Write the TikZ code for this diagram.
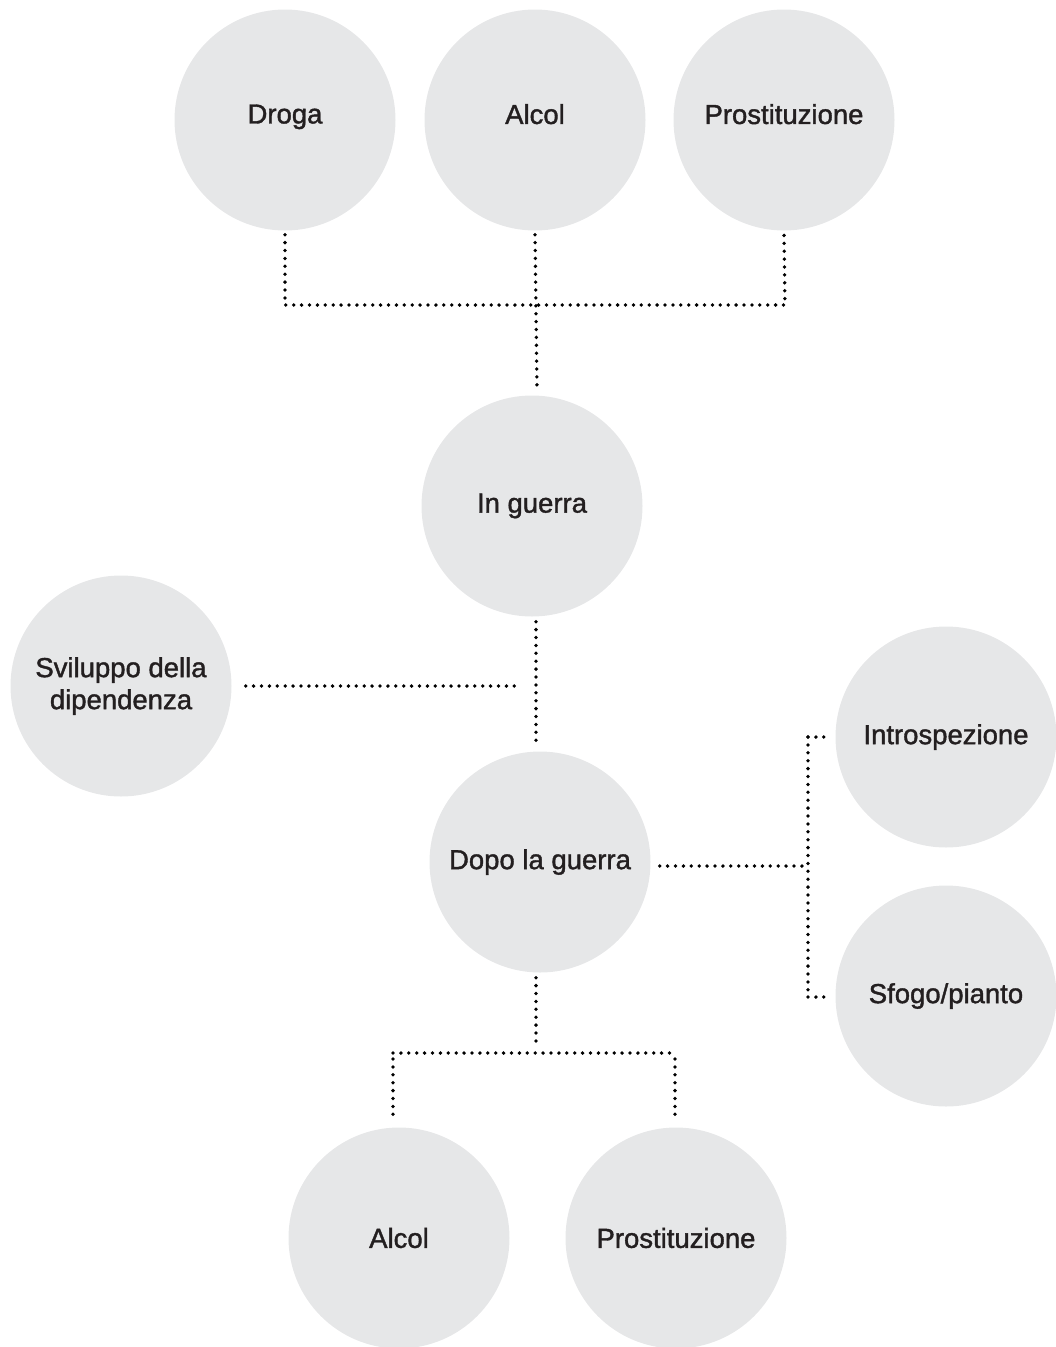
\documentclass[tikz,border=0pt]{standalone}
\usepackage{fontspec}
\usetikzlibrary{calc}
\newfontfamily\labfont{Liberation Sans}[FakeBold=1.4]
\definecolor{bubble}{HTML}{E6E7E8}
\definecolor{ink}{HTML}{231F20}
\begin{document}
\begin{tikzpicture}[x=1pt,y=-1pt,
  bub/.style={circle,fill=bubble,minimum size=221pt,inner sep=0pt,
    text=ink,align=center,font=\labfont\fontsize{27.5}{32}\selectfont},
  link/.style={draw=black,line width=3.8pt,line cap=round,
    dash pattern=on 0pt off 7.9pt}]
\useasboundingbox (0,0) rectangle (1056,1347);

% bubbles
\node[bub] (droga)  at (285,120) {\raisebox{12pt}{Droga}};
\node[bub] (alcolA) at (535,120) {\raisebox{12pt}{Alcol}};
\node[bub] (prostA) at (784,120) {\raisebox{12pt}{Prostituzione}};
\node[bub] (guerra) at (532,506) {In guerra};
\node[bub] (svil)   at (121,686) {Sviluppo della\\dipendenza};
\node[bub] (intro)  at (946,737) {Introspezione};
\node[bub] (dopo)   at (540,862) {Dopo la guerra};
\node[bub] (sfogo)  at (946,996) {Sfogo/pianto};
\node[bub] (alcolB) at (399,1238) {Alcol};
\node[bub] (prostB) at (676,1238) {Prostituzione};

% junction points
\coordinate (jt)  at (537,305);
\coordinate (jtl) at (285,305);
\coordinate (jtr) at (785,305);
\coordinate (jm)  at (536,686);
\coordinate (jr)  at (808,866);
\coordinate (jru) at (808,737);
\coordinate (jrd) at (808,997);
\coordinate (jb)  at (536,1053);
\coordinate (jbl) at (393,1053);
\coordinate (jbr) at (675,1053);

% top fan-in
\draw[link] ($(droga.south)+(0,4)$) -- (jtl) -- (jtr) -- ($(prostA.south)+(0,4)$);
\draw[link] ($(alcolA.south)+(0,4)$) -- ($(guerra.north)+(5,-4)$);
% middle trunk
\draw[link] ($(guerra.south)+(4,5)$) -- ($(dopo.north)+(-4,-5)$);
\draw[link] ($(svil.east)+(14,0)$) -- ($(jm)+(-14,0)$);
% right branch
\draw[link] ($(dopo.east)+(9,4)$) -- (jr);
\draw[link] (jru) -- (jrd);
\draw[link] (jru) -- ($(intro.west)+(-6,0)$);
\draw[link] (jrd) -- ($(sfogo.west)+(-6,1)$);
% bottom fan-out
\draw[link] ($(dopo.south)+(-4,5)$) -- ($(jb)+(0,-10)$);
\draw[link] (jbl) -- (jbr);
\draw[link] ($(jbl)+(0,6)$) -- ($(alcolB.north)+(-6,-6)$);
\draw[link] ($(jbr)+(0,6)$) -- ($(prostB.north)+(-1,-6)$);
\end{tikzpicture}
\end{document}
